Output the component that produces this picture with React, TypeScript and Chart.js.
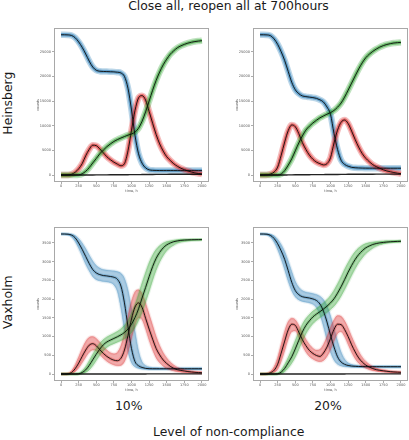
import React, { useEffect, useRef } from "react";
import { Chart, registerables } from "chart.js";

Chart.register(...registerables);

// ---- data ----
const TIME = [
  0, 50, 100, 150, 200, 250, 300, 350, 400, 450,
  500, 550, 600, 650, 700, 750, 800, 850, 900, 950,
  1000, 1050, 1100, 1150, 1200, 1250, 1300, 1350, 1400, 1450,
  1500, 1550, 1600, 1650, 1700, 1750, 1800, 1850, 1900, 1950,
  2000,
];
const X_TICKS = [0, 250, 500, 750, 1000, 1250, 1500, 1750, 2000];
const Y_TICKS_H = [0, 5000, 10000, 15000, 20000, 25000];
const Y_TICKS_V = [0, 500, 1000, 1500, 2000, 2500, 3000, 3500];

const TITLE = "Close all, reopen all at 700hours";
const ROW_LABELS = ["Heinsberg", "Vaxholm"];
const COL_LABELS = ["10%", "20%"];
const X_LABEL = "Level of non-compliance";

// Heinsberg, 10% (mean trajectories)
const H10_S = [
  28450, 28450, 28420, 28300, 27850, 27000, 25900, 24550, 23100, 21900,
  21250, 21050, 21000, 20980, 20950, 20920, 20850, 20700, 20000, 17600,
  13200, 8000, 4300, 2400, 1450, 1050, 950, 920, 905, 900,
  900, 895, 895, 890, 890, 890, 890, 890, 890, 890,
  890,
];
const H10_I = [
  0, 0, 20, 150, 550, 1250, 2300, 3900, 5200, 6050,
  5950, 5300, 4500, 3700, 3100, 2600, 2200, 1880, 2300, 4900,
  9100, 13100, 15650, 16100, 15200, 12900, 10500, 8200, 6300, 4850,
  3700, 2950, 2280, 1780, 1380, 1080, 830, 600, 430, 310,
  200,
];
const H10_R = [
  0, 0, 0, 0, 0, 30, 250, 750, 1500, 2450,
  3350, 4300, 5050, 5740, 6300, 6800, 7180, 7500, 7800, 8080,
  8320, 8700, 9500, 10900, 12800, 15000, 17200, 19200, 20900, 22350,
  23500, 24500, 25200, 25800, 26200, 26500, 26750, 26930, 27070, 27170,
  27250,
];
const H10_D = [
  0, 0, 0, 0, 0, 0, 0, 5, 10, 15,
  20, 25, 30, 35, 40, 45, 50, 55, 60, 65,
  70, 75, 80, 90, 100, 110, 115, 120, 125, 130,
  135, 138, 140, 142, 144, 146, 148, 150, 150, 150,
  150,
];

// Heinsberg, 20%
const H20_S = [
  28450, 28450, 28420, 28250, 27600, 26500, 25000, 23200, 21000, 18800,
  17300, 16500, 16050, 15900, 15800, 15700, 15550, 15250, 14800, 13800,
  12300, 8400, 5200, 3000, 2150, 1780, 1550, 1470, 1430, 1400,
  1390, 1385, 1380, 1380, 1375, 1375, 1375, 1370, 1370, 1370,
  1370,
];
const H20_I = [
  0, 0, 30, 200, 600, 1600, 4000, 6700, 9000, 10150,
  9800, 8400, 6600, 5200, 4030, 3200, 2620, 2300, 2050, 2300,
  3500, 6500, 9100, 10700, 11150, 10450, 8900, 7200, 5650, 4350,
  3400, 2700, 2100, 1700, 1350, 1050, 820, 650, 500, 380,
  270,
];
const H20_R = [
  0, 0, 0, 0, 0, 0, 200, 900, 2000, 3300,
  4900, 6500, 7900, 9100, 9900, 10550, 11100, 11600, 11980, 12330,
  12650, 13100, 13750, 14600, 15800, 17200, 18650, 20100, 21500, 22750,
  23780, 24500, 25080, 25550, 25950, 26250, 26480, 26650, 26780, 26850,
  26900,
];
const H20_D = [
  0, 0, 0, 0, 0, 0, 5, 10, 20, 30,
  40, 50, 55, 60, 65, 70, 75, 80, 85, 90,
  95, 100, 110, 120, 130, 140, 145, 150, 155, 160,
  162, 164, 166, 168, 170, 170, 170, 170, 170, 170,
  170,
];

// Vaxholm, 10% (mean, and the low / high edge of the ensemble band)
const V10_S = [
  3740, 3740, 3735, 3710, 3640, 3500, 3330, 3140, 2950, 2790,
  2700, 2655, 2630, 2620, 2605, 2585, 2530, 2350, 1900, 1260,
  680, 330, 220, 175, 150, 142, 140, 140, 140, 140,
  140, 140, 140, 140, 140, 140, 140, 140, 140, 140,
  140,
];
const V10_S_HI = [
  3740, 3740, 3740, 3735, 3700, 3620, 3500, 3350, 3180, 3020,
  2900, 2830, 2790, 2775, 2765, 2755, 2735, 2690, 2560, 2250,
  1750, 1150, 620, 330, 230, 190, 170, 165, 160, 160,
  160, 160, 160, 160, 160, 160, 160, 160, 160, 160,
  160,
];
const V10_S_LO = [
  3740, 3735, 3715, 3660, 3540, 3360, 3150, 2930, 2750, 2600,
  2520, 2490, 2470, 2460, 2440, 2380, 2200, 1750, 1150, 600,
  300, 190, 150, 130, 125, 120, 120, 120, 120, 120,
  120, 120, 120, 120, 120, 120, 120, 120, 120, 120,
  120,
];
const V10_I = [
  0, 0, 5, 40, 140, 290, 470, 640, 770, 810,
  755, 650, 550, 470, 410, 370, 355, 420, 640, 1030,
  1470, 1790, 1900, 1780, 1490, 1200, 930, 680, 510, 375,
  280, 205, 150, 115, 95, 80, 65, 55, 45, 40,
  35,
];
const V10_I_HI = [
  0, 0, 15, 90, 250, 460, 680, 870, 980, 1000,
  950, 850, 730, 640, 570, 540, 580, 760, 1100, 1550,
  1950, 2200, 2250, 2150, 1900, 1600, 1300, 1000, 760, 570,
  430, 320, 240, 180, 140, 110, 90, 75, 62, 55,
  48,
];
const V10_I_LO = [
  0, 0, 0, 10, 60, 160, 300, 450, 580, 640,
  620, 520, 420, 340, 280, 240, 220, 230, 330, 580,
  950, 1300, 1500, 1450, 1200, 900, 640, 430, 300, 210,
  150, 110, 80, 60, 50, 40, 35, 30, 25, 22,
  20,
];
const V10_R = [
  0, 0, 0, 0, 0, 5, 40, 110, 230, 380,
  530, 665, 780, 855, 905, 950, 995, 1045, 1110, 1200,
  1330, 1510, 1740, 2030, 2310, 2600, 2870, 3090, 3250, 3370,
  3450, 3500, 3535, 3555, 3570, 3578, 3583, 3586, 3588, 3589,
  3590,
];
const V10_R_HI = [
  0, 0, 0, 0, 0, 15, 90, 200, 360, 530,
  690, 820, 920, 990, 1040, 1090, 1140, 1210, 1300, 1430,
  1620, 1860, 2140, 2440, 2720, 2980, 3180, 3330, 3430, 3500,
  3540, 3560, 3575, 3585, 3590, 3592, 3593, 3594, 3595, 3595,
  3595,
];
const V10_R_LO = [
  0, 0, 0, 0, 0, 0, 10, 40, 110, 220,
  360, 500, 620, 710, 770, 810, 850, 890, 940, 1010,
  1110, 1240, 1420, 1650, 1920, 2200, 2500, 2770, 2990, 3160,
  3290, 3380, 3440, 3490, 3520, 3540, 3555, 3565, 3572, 3578,
  3582,
];
const V10_D = [
  0, 0, 0, 0, 0, 0, 0, 0, 0, 0,
  0, 0, 0, 0, 0, 0, 0, 0, 1, 1,
  1, 1, 2, 2, 2, 3, 3, 3, 3, 3,
  4, 4, 4, 4, 4, 4, 4, 4, 4, 4,
  4,
];

// Vaxholm, 20%
const V20_S = [
  3740, 3740, 3735, 3700, 3620, 3480, 3290, 3060, 2760, 2450,
  2230, 2120, 2065, 2045, 2030, 2005, 1965, 1870, 1680, 1390,
  1040, 720, 460, 320, 260, 228, 212, 205, 200, 198,
  197, 197, 196, 196, 196, 195, 195, 195, 195, 195,
  195,
];
const V20_S_HI = [
  3740, 3740, 3740, 3730, 3690, 3600, 3460, 3270, 3020, 2740,
  2480, 2320, 2230, 2190, 2170, 2150, 2125, 2080, 1990, 1820,
  1560, 1220, 880, 590, 400, 300, 255, 235, 222, 215,
  212, 210, 210, 210, 210, 210, 210, 210, 210, 210,
  210,
];
const V20_S_LO = [
  3740, 3735, 3715, 3650, 3520, 3320, 3070, 2780, 2470, 2220,
  2060, 1980, 1940, 1920, 1900, 1860, 1770, 1580, 1270, 900,
  580, 370, 260, 215, 195, 185, 180, 178, 178, 178,
  178, 178, 178, 178, 178, 178, 178, 178, 178, 178,
  178,
];
const V20_I = [
  0, 0, 5, 35, 100, 260, 560, 880, 1180, 1330,
  1300, 1120, 920, 760, 630, 550, 495, 470, 560, 720,
  950, 1190, 1330, 1320, 1190, 1000, 780, 590, 430, 320,
  240, 185, 145, 115, 98, 85, 73, 63, 55, 50,
  45,
];
const V20_I_HI = [
  0, 0, 15, 70, 200, 450, 800, 1150, 1400, 1490,
  1450, 1300, 1100, 930, 790, 690, 640, 660, 790, 1000,
  1250, 1450, 1560, 1540, 1420, 1230, 1000, 790, 600, 450,
  340, 260, 200, 155, 125, 105, 90, 78, 68, 60,
  55,
];
const V20_I_LO = [
  0, 0, 0, 10, 40, 120, 330, 620, 930, 1130,
  1150, 980, 760, 590, 470, 400, 350, 330, 360, 470,
  650, 880, 1080, 1130, 1000, 790, 580, 410, 290, 210,
  155, 115, 90, 75, 62, 52, 45, 40, 36, 33,
  30,
];
const V20_R = [
  0, 0, 0, 0, 0, 5, 50, 150, 300, 460,
  670, 900, 1120, 1295, 1420, 1525, 1600, 1665, 1735, 1810,
  1900, 2010, 2160, 2330, 2520, 2720, 2900, 3060, 3190, 3290,
  3370, 3420, 3460, 3485, 3503, 3515, 3525, 3533, 3538, 3542,
  3545,
];
const V20_R_HI = [
  0, 0, 0, 0, 0, 20, 110, 260, 450, 660,
  900, 1130, 1330, 1480, 1590, 1680, 1750, 1820, 1900, 1990,
  2100, 2240, 2410, 2600, 2800, 2980, 3140, 3270, 3370, 3440,
  3485, 3510, 3528, 3540, 3548, 3553, 3557, 3560, 3562, 3564,
  3565,
];
const V20_R_LO = [
  0, 0, 0, 0, 0, 0, 10, 60, 160, 290,
  450, 650, 870, 1070, 1220, 1340, 1430, 1500, 1570, 1640,
  1720, 1810, 1930, 2080, 2250, 2440, 2630, 2810, 2970, 3100,
  3210, 3290, 3360, 3410, 3450, 3475, 3495, 3508, 3515, 3520,
  3525,
];
const V20_D = [
  0, 0, 0, 0, 0, 0, 0, 0, 0, 0,
  0, 0, 0, 0, 0, 0, 0, 0, 1, 1,
  1, 1, 2, 2, 2, 3, 3, 3, 3, 3,
  4, 4, 4, 4, 4, 4, 4, 4, 4, 4,
  4,
];

// ---- styling / layout ----
const FONT = "'DejaVu Sans', 'Liberation Sans', sans-serif";
const BLUE = [31, 119, 180];
const RED = [218, 35, 35];
const GREEN = [44, 160, 44];
const rgba = (c: number[], a: number) => `rgba(${c[0]},${c[1]},${c[2]},${a})`;

const AXIS_W = 24;
const AXIS_H = 16;
const PAD_T = 4;
const PAD_R = 4;
const PLOT_W = 155;
const PLOT_H = 154;
const CANVAS_W = AXIS_W + PLOT_W + PAD_R;
const CANVAS_H = PAD_T + PLOT_H + AXIS_H;

type Series = { mean: number[]; lo?: number[]; hi?: number[]; color: number[] };
type PanelDef = {
  left: number;
  top: number;
  series: Series[];
  D: number[];
  yMin: number;
  yMax: number;
  yTicks: number[];
};

const PANELS: PanelDef[] = [
  {
    left: 54, top: 28, yMin: -1420, yMax: 29820, yTicks: Y_TICKS_H, D: H10_D,
    series: [
      { mean: H10_S, color: BLUE },
      { mean: H10_I, color: RED },
      { mean: H10_R, color: GREEN },
    ],
  },
  {
    left: 253, top: 28, yMin: -1420, yMax: 29820, yTicks: Y_TICKS_H, D: H20_D,
    series: [
      { mean: H20_S, color: BLUE },
      { mean: H20_I, color: RED },
      { mean: H20_R, color: GREEN },
    ],
  },
  {
    left: 54, top: 227, yMin: -187, yMax: 3927, yTicks: Y_TICKS_V, D: V10_D,
    series: [
      { mean: V10_S, lo: V10_S_LO, hi: V10_S_HI, color: BLUE },
      { mean: V10_I, lo: V10_I_LO, hi: V10_I_HI, color: RED },
      { mean: V10_R, lo: V10_R_LO, hi: V10_R_HI, color: GREEN },
    ],
  },
  {
    left: 253, top: 227, yMin: -187, yMax: 3927, yTicks: Y_TICKS_V, D: V20_D,
    series: [
      { mean: V20_S, lo: V20_S_LO, hi: V20_S_HI, color: BLUE },
      { mean: V20_I, lo: V20_I_LO, hi: V20_I_HI, color: RED },
      { mean: V20_R, lo: V20_R_LO, hi: V20_R_HI, color: GREEN },
    ],
  },
];

const framePlugin = {
  id: "frame",
  afterDatasetsDraw(chart: any) {
    const { ctx, chartArea: a } = chart;
    ctx.save();
    ctx.strokeStyle = "#a8a8a8";
    ctx.lineWidth = 1;
    ctx.strokeRect(a.left + 0.5, a.top + 0.5, a.right - a.left - 1, a.bottom - a.top - 1);
    ctx.restore();
  },
};

function Panel({ p }: { p: PanelDef }) {
  const ref = useRef<HTMLCanvasElement>(null);
  useEffect(() => {
    const canvas = ref.current;
    if (!canvas) return;
    const line = (vals: number[], color: string, width: number, order: number, extra: any = {}) => ({
      data: vals.map((v, i) => ({ x: TIME[i], y: v })),
      borderColor: color,
      backgroundColor: color,
      borderWidth: width,
      pointRadius: 0,
      fill: false,
      cubicInterpolationMode: "monotone" as const,
      borderJoinStyle: "round" as const,
      borderCapStyle: "butt" as const,
      order,
      ...extra,
    });
    const datasets: any[] = [];
    p.series.forEach((s, k) => {
      const base = 60 - k * 10;
      if (s.lo && s.hi) {
        // faint halo around the band edges (outlying runs)
        datasets.push(line(s.lo, rgba(s.color, 0.1), 3, base));
        datasets.push(line(s.hi, rgba(s.color, 0.1), 3, base));
        const loIndex = datasets.length;
        datasets.push(line(s.lo, rgba(s.color, 0.4), 0.6, base - 1));
        datasets.push(
          line(s.hi, rgba(s.color, 0.4), 0.6, base - 2, {
            fill: { target: loIndex },
            backgroundColor: rgba(s.color, 0.38),
          })
        );
        datasets.push(line(s.mean, rgba(s.color, 0.3), 3, base - 3));
      } else {
        datasets.push(line(s.mean, rgba(s.color, 0.3), 6.5, base));
        datasets.push(line(s.mean, rgba(s.color, 0.55), 3.5, base - 1));
      }
    });
    p.series.forEach((s) => {
      datasets.push(line(s.mean, "rgba(10,10,10,0.9)", 1, 1));
    });
    datasets.push(line(p.D, "rgba(10,10,10,0.9)", 1.4, 0));

    const tickFont = { size: 3.5, family: FONT };
    const chart = new Chart(canvas, {
      type: "line",
      data: { datasets },
      options: {
        animation: false,
        responsive: false,
        devicePixelRatio: 1,
        events: [],
        layout: { padding: { top: PAD_T, right: PAD_R, left: 0, bottom: 0 } },
        plugins: { legend: { display: false }, tooltip: { enabled: false } },
        scales: {
          x: {
            type: "linear",
            min: -100,
            max: 2100,
            afterBuildTicks: (s: any) => {
              s.ticks = X_TICKS.map((v) => ({ value: v }));
            },
            afterFit: (s: any) => {
              s.height = AXIS_H;
            },
            grid: { drawOnChartArea: false, drawTicks: true, tickLength: 2, color: "#888", tickWidth: 0.7 },
            border: { display: false },
            ticks: {
              font: tickFont,
              color: "#555",
              padding: 0,
              maxRotation: 0,
              autoSkip: false,
              callback: (v: any) => String(v),
            },
            title: {
              display: true,
              text: "time, h",
              font: tickFont,
              color: "#555",
              padding: { top: 0, bottom: 5.2 },
            },
          },
          y: {
            type: "linear",
            min: p.yMin,
            max: p.yMax,
            afterBuildTicks: (s: any) => {
              s.ticks = p.yTicks.map((v) => ({ value: v }));
            },
            afterFit: (s: any) => {
              s.width = AXIS_W;
            },
            grid: { drawOnChartArea: false, drawTicks: true, tickLength: 2, color: "#888", tickWidth: 0.7 },
            border: { display: false },
            ticks: {
              font: tickFont,
              color: "#555",
              padding: 1,
              autoSkip: false,
              callback: (v: any) => String(v),
            },
            title: {
              display: true,
              text: "counts",
              font: tickFont,
              color: "#555",
              padding: { top: 5.9, bottom: 0 },
            },
          },
        },
      },
      plugins: [framePlugin],
    } as any);
    return () => chart.destroy();
  }, [p]);
  return (
    <canvas
      ref={ref}
      width={CANVAS_W}
      height={CANVAS_H}
      style={{
        position: "absolute",
        left: p.left - AXIS_W,
        top: p.top - PAD_T,
        width: CANVAS_W,
        height: CANVAS_H,
      }}
    />
  );
}

const bigText: React.CSSProperties = {
  position: "absolute",
  fontFamily: FONT,
  fontSize: 12.4,
  lineHeight: "12.4px",
  color: "#1a1a1a",
  whiteSpace: "nowrap",
  textAlign: "center",
};

export default function App() {
  return (
    <div
      style={{
        position: "absolute",
        left: 0,
        top: 0,
        width: 409,
        height: 440,
        background: "#ffffff",
        overflow: "hidden",
      }}
    >
      <div style={{ ...bigText, left: 228.5 - 200, width: 400, top: 0.2 }}>{TITLE}</div>
      <div
        style={{ ...bigText, left: 8.3 - 60, width: 120, top: 103.5 - 6.2, transform: "rotate(-90deg)", transformOrigin: "50% 50%" }}
      >
        {ROW_LABELS[0]}
      </div>
      <div
        style={{ ...bigText, left: 8.3 - 60, width: 120, top: 302.5 - 6.2, transform: "rotate(-90deg)", transformOrigin: "50% 50%" }}
      >
        {ROW_LABELS[1]}
      </div>
      <div style={{ ...bigText, left: 128.7 - 40, width: 80, top: 400.2 }}>{COL_LABELS[0]}</div>
      <div style={{ ...bigText, left: 328 - 40, width: 80, top: 400.2 }}>{COL_LABELS[1]}</div>
      <div style={{ ...bigText, left: 228.7 - 150, width: 300, top: 426.2 }}>{X_LABEL}</div>
      {PANELS.map((p, i) => (
        <Panel key={i} p={p} />
      ))}
    </div>
  );
}
